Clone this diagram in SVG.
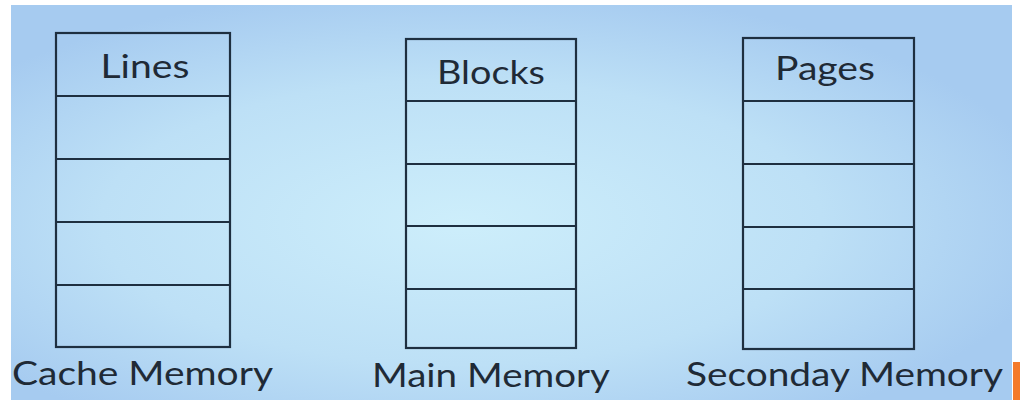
<svg xmlns="http://www.w3.org/2000/svg" width="1020" height="400" viewBox="0 0 1020 400">
<defs>
<radialGradient id="bg" cx="0.45" cy="0.55" r="0.6">
<stop offset="0" stop-color="#cdeefb"/>
<stop offset="0.6" stop-color="#bde0f6"/>
<stop offset="1" stop-color="#a6cbf0"/>
</radialGradient>
<style>
.box{fill:none;stroke:#1e2f40;stroke-width:2.2}
.div{stroke:#1e2f40;stroke-width:2.2}
.hd{font-family:Lato,"Open Sans",sans-serif;font-size:33px;fill:#1f2a36;text-anchor:middle}
.lb{font-family:Lato,"Open Sans",sans-serif;font-size:32px;fill:#1f2a36}
</style>
</defs>
<rect x="0" y="0" width="1020" height="400" fill="#ffffff"/>
<rect x="11" y="5" width="1001" height="395" fill="url(#bg)"/>
<rect x="1013" y="362" width="7" height="38" fill="#f47a2a"/>
<g id="cache">
<rect class="box" x="56" y="33" width="174" height="314"/>
<line class="div" x1="56" y1="96" x2="230" y2="96"/>
<line class="div" x1="56" y1="159" x2="230" y2="159"/>
<line class="div" x1="56" y1="222" x2="230" y2="222"/>
<line class="div" x1="56" y1="285" x2="230" y2="285"/>
<text class="hd" x="145" y="78" textLength="89" lengthAdjust="spacingAndGlyphs">Lines</text>
<text class="lb" x="12" y="385" textLength="261" lengthAdjust="spacingAndGlyphs">Cache Memory</text>
</g>
<g id="main">
<rect class="box" x="406" y="39" width="170" height="309"/>
<line class="div" x1="406" y1="101" x2="576" y2="101"/>
<line class="div" x1="406" y1="164" x2="576" y2="164"/>
<line class="div" x1="406" y1="226" x2="576" y2="226"/>
<line class="div" x1="406" y1="289" x2="576" y2="289"/>
<text class="hd" x="491" y="84" textLength="108" lengthAdjust="spacingAndGlyphs">Blocks</text>
<text class="lb" x="372" y="387" textLength="238" lengthAdjust="spacingAndGlyphs">Main Memory</text>
</g>
<g id="secondary">
<rect class="box" x="743" y="38" width="171" height="311"/>
<line class="div" x1="743" y1="101" x2="914" y2="101"/>
<line class="div" x1="743" y1="164" x2="914" y2="164"/>
<line class="div" x1="743" y1="227" x2="914" y2="227"/>
<line class="div" x1="743" y1="289" x2="914" y2="289"/>
<text class="hd" x="825" y="80" textLength="100" lengthAdjust="spacingAndGlyphs">Pages</text>
<text class="lb" x="686" y="386" textLength="317" lengthAdjust="spacingAndGlyphs">Seconday Memory</text>
</g>
<g id="connectors"/>
</svg>
